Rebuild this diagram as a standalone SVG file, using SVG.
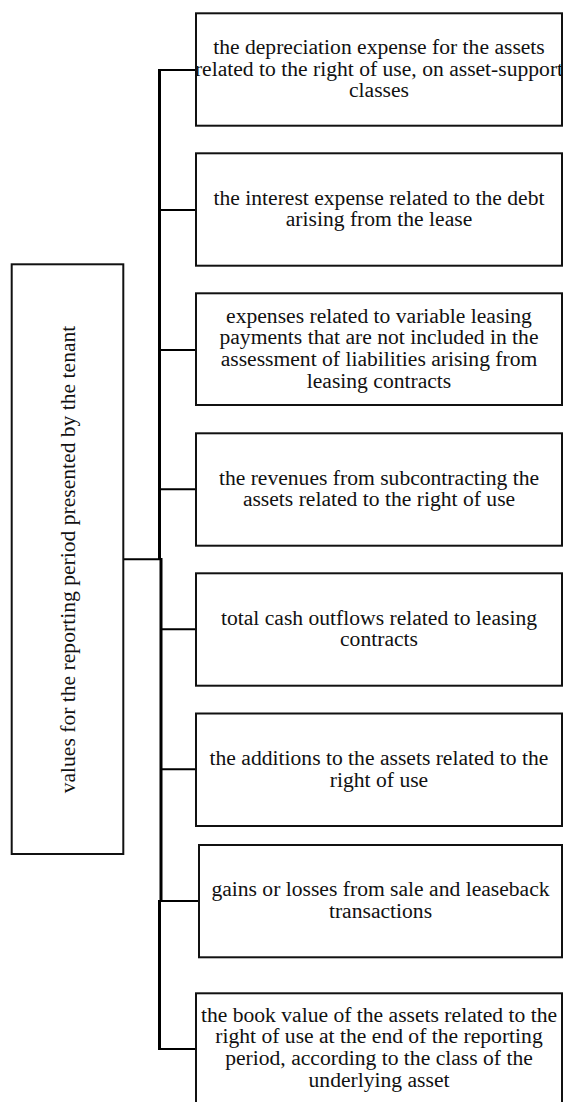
<svg xmlns="http://www.w3.org/2000/svg" width="563" height="1102" viewBox="0 0 563 1102">
<style>
.box{fill:#fff;stroke:#111;stroke-width:2}
.t{font-family:"Liberation Serif","Times New Roman",serif;font-size:21.6px;fill:#111;text-anchor:middle}
.c{stroke:#000;fill:none}
.trunk{stroke-width:3}
.br{stroke-width:2}
</style>
<rect width="563" height="1102" fill="#fff"/>
<g id="connectors">
<line class="c trunk" x1="159.5" y1="69" x2="159.5" y2="560"/>
<line class="c trunk" x1="161" y1="558" x2="161" y2="902"/>
<line class="c trunk" x1="159.5" y1="900" x2="159.5" y2="1050"/>
<line class="c br" x1="123" y1="559.3" x2="162" y2="559.3"/>
<line class="c br" x1="158" y1="70" x2="196" y2="70"/>
<line class="c br" x1="158" y1="210" x2="196" y2="210"/>
<line class="c br" x1="158" y1="350" x2="196" y2="350"/>
<line class="c br" x1="158" y1="489.3" x2="196" y2="489.3"/>
<line class="c br" x1="160" y1="629.3" x2="196" y2="629.3"/>
<line class="c br" x1="160" y1="769.3" x2="196" y2="769.3"/>
<line class="c br" x1="158" y1="901" x2="199" y2="901"/>
<line class="c br" x1="158" y1="1049" x2="196" y2="1049"/>
</g>
<g id="root">
<rect class="box" x="11.7" y="264.3" width="111.6" height="589.7"/>
<text class="t" transform="translate(74.5,559.5) rotate(-90)" x="0" y="0">values for the reporting period presented by the tenant</text>
</g>
<g id="n1">
<rect class="box" x="196" y="13.3" width="366" height="112.4"/>
<text class="t" x="379" y="54">the depreciation expense for the assets</text>
<text class="t" x="379" y="75.6">related to the right of use, on asset-support</text>
<text class="t" x="379" y="97.2">classes</text>
</g>
<g id="n2">
<rect class="box" x="196" y="153.3" width="366" height="112.4"/>
<text class="t" x="379" y="204.7">the interest expense related to the debt</text>
<text class="t" x="379" y="226.3">arising from the lease</text>
</g>
<g id="n3">
<rect class="box" x="196" y="293.3" width="366" height="111.7"/>
<text class="t" x="379" y="322.8">expenses related to variable leasing</text>
<text class="t" x="379" y="344.4">payments that are not included in the</text>
<text class="t" x="379" y="366">assessment of liabilities arising from</text>
<text class="t" x="379" y="387.6">leasing contracts</text>
</g>
<g id="n4">
<rect class="box" x="196" y="433.3" width="366" height="112.4"/>
<text class="t" x="379" y="484.7">the revenues from subcontracting the</text>
<text class="t" x="379" y="506.3">assets related to the right of use</text>
</g>
<g id="n5">
<rect class="box" x="196" y="573.3" width="366" height="112.4"/>
<text class="t" x="379" y="624.7">total cash outflows related to leasing</text>
<text class="t" x="379" y="646.3">contracts</text>
</g>
<g id="n6">
<rect class="box" x="196" y="713.5" width="366" height="112.5"/>
<text class="t" x="379" y="765">the additions to the assets related to the</text>
<text class="t" x="379" y="786.6">right of use</text>
</g>
<g id="n7">
<rect class="box" x="199" y="845" width="363" height="112.3"/>
<text class="t" x="380.5" y="896.4">gains or losses from sale and leaseback</text>
<text class="t" x="380.5" y="918">transactions</text>
</g>
<g id="n8">
<rect class="box" x="196" y="993.3" width="366" height="112"/>
<text class="t" x="379" y="1021.7">the book value of the assets related to the</text>
<text class="t" x="379" y="1043.3">right of use at the end of the reporting</text>
<text class="t" x="379" y="1064.9">period, according to the class of the</text>
<text class="t" x="379" y="1086.5">underlying asset</text>
</g>
</svg>
